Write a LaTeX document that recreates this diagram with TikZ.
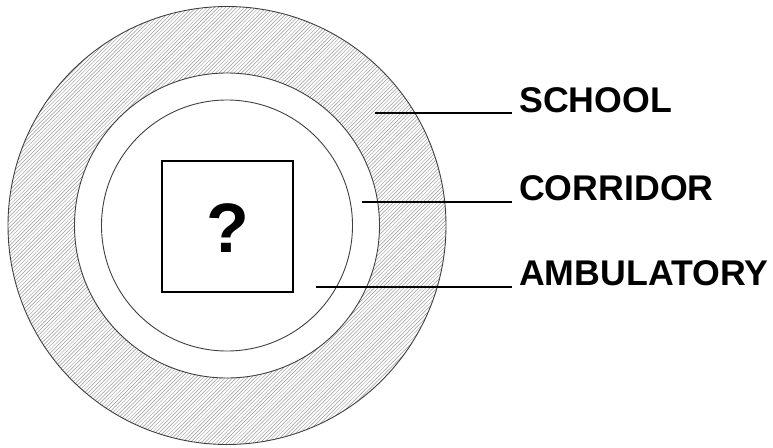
\documentclass[tikz,border=0pt]{standalone}
\usepackage{fontspec}
\setmainfont{Liberation Sans}
\begin{document}
\begin{tikzpicture}[x=1pt,y=-1pt,
  ring/.style={draw=black!75,line width=0.9pt},
  leader/.style={draw=black,line width=1.1pt},
  lbl/.style={anchor=base west,inner sep=0pt,font=\fontsize{35.7}{40}\selectfont\bfseries},
  hatch/.style={draw=black!40,line width=0.45pt}]
\useasboundingbox (0,0) rectangle (773,447);
\coordinate (ctr) at (227,225.5);
% hatched ring
\begin{scope}[even odd rule]
  \clip (ctr) circle[radius=219] (ctr) circle[radius=152.5];
  \foreach \k in {-460,-456.3,...,470}{
    \draw[hatch] (\k,460) -- ({\k+460},0);
  }
\end{scope}
\draw[ring] (ctr) circle[radius=219];
\draw[ring] (ctr) circle[radius=152.5];
\draw[ring] (ctr) circle[radius=125.5];
% square with question mark
\node[draw=black,line width=1.2pt,minimum width=131pt,minimum height=131pt,inner sep=0pt] (box) at (227.5,226.5) {};
\node[inner sep=0pt,font=\fontsize{70}{72}\selectfont\bfseries] (q) at (228,228) {?};
% labels
\node[lbl] (school) at (519,112) {SCHOOL};
\node[lbl] (corridor) at (519,200.5) {CORRIDOR};
\node[lbl] (amb) at (519,285.5) {AMBULATORY};
\coordinate (e1) at ([xshift=-7pt]school.base west);
\coordinate (e2) at ([xshift=-7pt]corridor.base west);
\coordinate (e3) at ([xshift=-7pt]amb.base west);
\coordinate (p1) at (375,113);
\coordinate (p2) at (362,202);
\coordinate (p3) at (316,287);
\draw[leader] (p1) -- (p1 -| e1);
\draw[leader] (p2) -- (p2 -| e2);
\draw[leader] (p3) -- (p3 -| e3);
\end{tikzpicture}
\end{document}
